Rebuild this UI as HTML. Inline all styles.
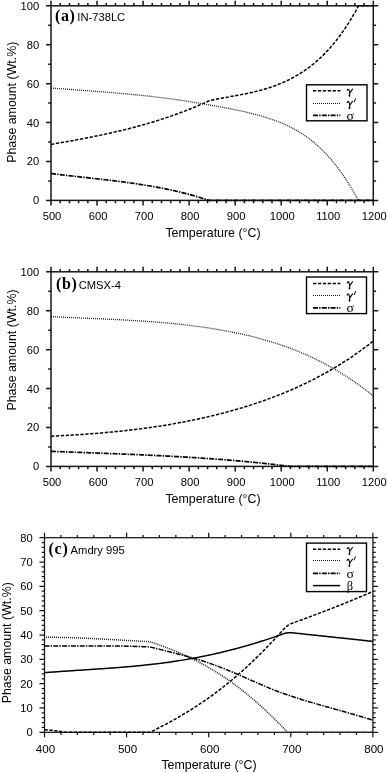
<!DOCTYPE html>
<html><head><meta charset="utf-8"><style>
html,body{margin:0;padding:0;background:#fff;}
body{width:388px;height:773px;overflow:hidden;}
svg{display:block;will-change:transform;}
text{font-family:"Liberation Sans",sans-serif;fill:#000;}
.tl{font-size:11.2px;}
.at{font-size:12.4px;}
.nm{font-size:11.2px;}
.pl{font-family:"Liberation Serif",serif;font-weight:bold;font-size:16px;letter-spacing:0.7px;}
.lg{font-family:"Liberation Serif",serif;font-size:11px;}
.lg2{font-family:"Liberation Serif",serif;font-size:12.5px;}
</style></head><body>
<svg width="388" height="773" viewBox="0 0 388 773">
<rect x="51.00" y="5.80" width="322.30" height="194.60" fill="none" stroke="#161616" stroke-width="1.50"/>
<path d="M51.00,200.40v5.00M51.00,5.80v-5.00M60.21,200.40v2.80M60.21,5.80v-2.80M69.42,200.40v2.80M69.42,5.80v-2.80M78.63,200.40v2.80M78.63,5.80v-2.80M87.83,200.40v2.80M87.83,5.80v-2.80M97.04,200.40v5.00M97.04,5.80v-5.00M106.25,200.40v2.80M106.25,5.80v-2.80M115.46,200.40v2.80M115.46,5.80v-2.80M124.67,200.40v2.80M124.67,5.80v-2.80M133.88,200.40v2.80M133.88,5.80v-2.80M143.09,200.40v5.00M143.09,5.80v-5.00M152.29,200.40v2.80M152.29,5.80v-2.80M161.50,200.40v2.80M161.50,5.80v-2.80M170.71,200.40v2.80M170.71,5.80v-2.80M179.92,200.40v2.80M179.92,5.80v-2.80M189.13,200.40v5.00M189.13,5.80v-5.00M198.34,200.40v2.80M198.34,5.80v-2.80M207.55,200.40v2.80M207.55,5.80v-2.80M216.75,200.40v2.80M216.75,5.80v-2.80M225.96,200.40v2.80M225.96,5.80v-2.80M235.17,200.40v5.00M235.17,5.80v-5.00M244.38,200.40v2.80M244.38,5.80v-2.80M253.59,200.40v2.80M253.59,5.80v-2.80M262.80,200.40v2.80M262.80,5.80v-2.80M272.01,200.40v2.80M272.01,5.80v-2.80M281.21,200.40v5.00M281.21,5.80v-5.00M290.42,200.40v2.80M290.42,5.80v-2.80M299.63,200.40v2.80M299.63,5.80v-2.80M308.84,200.40v2.80M308.84,5.80v-2.80M318.05,200.40v2.80M318.05,5.80v-2.80M327.26,200.40v5.00M327.26,5.80v-5.00M336.47,200.40v2.80M336.47,5.80v-2.80M345.67,200.40v2.80M345.67,5.80v-2.80M354.88,200.40v2.80M354.88,5.80v-2.80M364.09,200.40v2.80M364.09,5.80v-2.80M373.30,200.40v5.00M373.30,5.80v-5.00M51.00,200.40h-5.00M373.30,200.40h5.00M51.00,180.94h-2.80M373.30,180.94h2.80M51.00,161.48h-5.00M373.30,161.48h5.00M51.00,142.02h-2.80M373.30,142.02h2.80M51.00,122.56h-5.00M373.30,122.56h5.00M51.00,103.10h-2.80M373.30,103.10h2.80M51.00,83.64h-5.00M373.30,83.64h5.00M51.00,64.18h-2.80M373.30,64.18h2.80M51.00,44.72h-5.00M373.30,44.72h5.00M51.00,25.26h-2.80M373.30,25.26h2.80M51.00,5.80h-5.00M373.30,5.80h5.00" stroke="#161616" stroke-width="1.50" fill="none"/>
<text x="52.00" y="220.00" text-anchor="middle" class="tl">500</text>
<text x="98.04" y="220.00" text-anchor="middle" class="tl">600</text>
<text x="144.09" y="220.00" text-anchor="middle" class="tl">700</text>
<text x="190.13" y="220.00" text-anchor="middle" class="tl">800</text>
<text x="236.17" y="220.00" text-anchor="middle" class="tl">900</text>
<text x="282.21" y="220.00" text-anchor="middle" class="tl">1000</text>
<text x="328.26" y="220.00" text-anchor="middle" class="tl">1100</text>
<text x="374.30" y="220.00" text-anchor="middle" class="tl">1200</text>
<text x="39.20" y="204.40" text-anchor="end" class="tl">0</text>
<text x="39.20" y="165.48" text-anchor="end" class="tl">20</text>
<text x="39.20" y="126.56" text-anchor="end" class="tl">40</text>
<text x="39.20" y="87.64" text-anchor="end" class="tl">60</text>
<text x="39.20" y="48.72" text-anchor="end" class="tl">80</text>
<text x="39.20" y="9.80" text-anchor="end" class="tl">100</text>
<path d="M51.00,144.40L52.51,144.14L54.02,143.88L55.53,143.62L57.04,143.36L58.55,143.10L60.06,142.84L61.57,142.57L63.08,142.31L64.59,142.04L66.10,141.77L67.60,141.50L69.11,141.23L70.62,140.96L72.13,140.69L73.64,140.41L75.15,140.14L76.66,139.86L78.17,139.58L79.68,139.29L81.19,139.01L82.70,138.72L84.21,138.43L85.72,138.14L87.23,137.85L88.74,137.56L90.25,137.26L91.76,136.96L93.27,136.66L94.78,136.35L96.29,136.04L97.80,135.73L99.30,135.42L100.81,135.11L102.32,134.79L103.83,134.46L105.34,134.14L106.85,133.81L108.36,133.48L109.87,133.15L111.38,132.81L112.89,132.47L114.40,132.12L115.91,131.78L117.42,131.43L118.93,131.07L120.44,130.71L121.95,130.35L123.46,129.98L124.97,129.61L126.48,129.24L127.99,128.86L129.50,128.48L131.00,128.09L132.51,127.70L134.02,127.31L135.53,126.91L137.04,126.50L138.55,126.09L140.06,125.68L141.57,125.26L143.08,124.84L144.59,124.42L146.10,123.98L147.61,123.55L149.12,123.11L150.63,122.66L152.14,122.21L153.65,121.75L155.16,121.29L156.67,120.82L158.18,120.35L159.69,119.87L161.20,119.39L162.70,118.90L164.21,118.40L165.72,117.90L167.23,117.39L168.74,116.88L170.25,116.36L171.76,115.84L173.27,115.31L174.78,114.77L176.29,114.23L177.80,113.68L179.31,113.13L180.82,112.57L182.33,112.00L183.84,111.42L185.35,110.84L186.86,110.26L188.37,109.66L189.88,109.06L191.39,108.45L192.90,107.84L194.40,107.22L195.91,106.59L197.42,105.95L198.93,105.31L200.44,104.66L201.95,104.00L203.46,103.34L204.97,102.66L206.48,101.98L207.99,101.30L209.50,100.60L211.01,100.28L212.51,99.97L214.02,99.67L215.52,99.37L217.03,99.07L218.54,98.79L220.04,98.50L221.55,98.22L223.05,97.94L224.56,97.67L226.07,97.39L227.57,97.12L229.08,96.85L230.58,96.58L232.09,96.30L233.60,96.03L235.10,95.76L236.61,95.48L238.12,95.20L239.62,94.91L241.13,94.62L242.63,94.33L244.14,94.03L245.65,93.73L247.15,93.41L248.66,93.09L250.16,92.77L251.67,92.43L253.18,92.09L254.68,91.73L256.19,91.37L257.69,91.00L259.20,90.61L260.71,90.21L262.21,89.80L263.72,89.38L265.22,88.94L266.73,88.48L268.24,88.02L269.74,87.53L271.25,87.03L272.75,86.52L274.26,85.98L275.77,85.43L277.27,84.86L278.78,84.27L280.28,83.66L281.79,83.03L283.30,82.38L284.80,81.71L286.31,81.01L287.82,80.30L289.32,79.55L290.83,78.79L292.33,78.00L293.84,77.18L295.35,76.34L296.85,75.47L298.36,74.58L299.86,73.66L301.37,72.71L302.88,71.73L304.38,70.72L305.89,69.67L307.39,68.60L308.90,67.49L310.41,66.35L311.91,65.18L313.42,63.97L314.92,62.72L316.43,61.43L317.94,60.10L319.44,58.74L320.95,57.33L322.45,55.88L323.96,54.39L325.47,52.85L326.97,51.27L328.48,49.64L329.98,47.96L331.49,46.24L333.00,44.47L334.50,42.64L336.01,40.77L337.52,38.84L339.02,36.86L340.53,34.82L342.03,32.73L343.54,30.59L345.05,28.38L346.55,26.12L348.06,23.80L349.56,21.42L351.07,18.98L352.58,16.47L354.08,13.90L355.59,11.27L357.09,8.57L358.60,5.80L373.30,5.80" stroke="#000" stroke-width="1.5" stroke-dasharray="3.3 1.6" fill="none"/>
<path d="M51.00,88.00L52.51,88.12L54.01,88.23L55.52,88.34L57.03,88.46L58.53,88.57L60.04,88.68L61.55,88.80L63.05,88.91L64.56,89.02L66.07,89.13L67.58,89.24L69.08,89.35L70.59,89.46L72.10,89.58L73.60,89.69L75.11,89.80L76.62,89.91L78.12,90.02L79.63,90.13L81.14,90.24L82.64,90.35L84.15,90.47L85.66,90.58L87.16,90.69L88.67,90.80L90.18,90.92L91.69,91.03L93.19,91.15L94.70,91.26L96.21,91.38L97.71,91.49L99.22,91.61L100.73,91.73L102.23,91.85L103.74,91.97L105.25,92.09L106.75,92.21L108.26,92.33L109.77,92.45L111.27,92.58L112.78,92.71L114.29,92.83L115.80,92.96L117.30,93.09L118.81,93.22L120.32,93.35L121.82,93.49L123.33,93.62L124.84,93.76L126.34,93.89L127.85,94.03L129.36,94.17L130.86,94.32L132.37,94.46L133.88,94.61L135.38,94.75L136.89,94.90L138.40,95.06L139.90,95.21L141.41,95.36L142.92,95.52L144.43,95.68L145.93,95.84L147.44,96.01L148.95,96.17L150.45,96.34L151.96,96.51L153.47,96.68L154.97,96.86L156.48,97.03L157.99,97.21L159.49,97.40L161.00,97.58L162.51,97.77L164.01,97.96L165.52,98.15L167.03,98.35L168.54,98.54L170.04,98.75L171.55,98.95L173.06,99.16L174.56,99.36L176.07,99.58L177.58,99.79L179.08,100.01L180.59,100.23L182.10,100.45L183.60,100.68L185.11,100.91L186.62,101.14L188.12,101.37L189.63,101.60L191.14,101.84L192.65,102.08L194.15,102.33L195.66,102.57L197.17,102.82L198.67,103.07L200.18,103.32L201.69,103.57L203.19,103.83L204.70,104.08L206.21,104.34L207.71,104.60L209.22,104.87L210.73,105.13L212.23,105.40L213.74,105.67L215.25,105.94L216.75,106.21L218.26,106.49L219.77,106.76L221.28,107.04L222.78,107.32L224.29,107.60L225.80,107.88L227.30,108.17L228.81,108.46L230.32,108.75L231.82,109.04L233.33,109.34L234.84,109.65L236.34,109.96L237.85,110.27L239.36,110.59L240.86,110.92L242.37,111.25L243.88,111.58L245.39,111.93L246.89,112.28L248.40,112.64L249.91,113.00L251.41,113.38L252.92,113.76L254.43,114.15L255.93,114.55L257.44,114.96L258.95,115.37L260.45,115.80L261.96,116.24L263.47,116.69L264.97,117.15L266.48,117.62L267.99,118.10L269.50,118.60L271.00,119.10L272.51,119.62L274.02,120.15L275.52,120.70L277.03,121.26L278.54,121.84L280.04,122.44L281.55,123.06L283.06,123.69L284.56,124.35L286.07,125.02L287.58,125.72L289.08,126.44L290.59,127.19L292.10,127.96L293.60,128.76L295.11,129.58L296.62,130.43L298.13,131.31L299.63,132.22L301.14,133.15L302.65,134.12L304.15,135.13L305.66,136.16L307.17,137.23L308.67,138.33L310.18,139.47L311.69,140.65L313.19,141.87L314.70,143.12L316.21,144.41L317.71,145.75L319.22,147.12L320.73,148.54L322.24,150.00L323.74,151.50L325.25,153.05L326.76,154.65L328.26,156.29L329.77,157.98L331.28,159.72L332.78,161.50L334.29,163.34L335.80,165.23L337.30,167.18L338.81,169.17L340.32,171.22L341.82,173.33L343.33,175.49L344.84,177.71L346.35,179.99L347.85,182.32L349.36,184.72L350.87,187.17L352.37,189.69L353.88,192.27L355.39,194.92L356.89,197.62L358.40,200.40L373.30,200.40" stroke="#222" stroke-width="1.3" stroke-dasharray="1 1" fill="none"/>
<path d="M51.00,173.50L52.50,173.69L54.01,173.88L55.51,174.07L57.02,174.26L58.52,174.44L60.03,174.63L61.53,174.81L63.04,174.99L64.54,175.17L66.05,175.34L67.55,175.52L69.06,175.69L70.56,175.86L72.07,176.03L73.57,176.20L75.08,176.37L76.58,176.54L78.09,176.71L79.59,176.88L81.10,177.05L82.60,177.21L84.10,177.38L85.61,177.55L87.11,177.71L88.62,177.88L90.12,178.05L91.63,178.21L93.13,178.38L94.64,178.55L96.14,178.72L97.65,178.89L99.15,179.06L100.66,179.23L102.16,179.40L103.67,179.57L105.17,179.75L106.68,179.92L108.18,180.10L109.69,180.28L111.19,180.46L112.70,180.64L114.20,180.82L115.70,181.01L117.21,181.19L118.71,181.38L120.22,181.57L121.72,181.77L123.23,181.96L124.73,182.16L126.24,182.36L127.74,182.57L129.25,182.77L130.75,182.98L132.26,183.20L133.76,183.41L135.27,183.63L136.77,183.85L138.28,184.08L139.78,184.31L141.29,184.54L142.79,184.78L144.30,185.02L145.80,185.26L147.30,185.51L148.81,185.76L150.31,186.02L151.82,186.28L153.32,186.54L154.83,186.81L156.33,187.09L157.84,187.37L159.34,187.65L160.85,187.94L162.35,188.23L163.86,188.53L165.36,188.84L166.87,189.15L168.37,189.46L169.88,189.78L171.38,190.11L172.89,190.44L174.39,190.78L175.90,191.12L177.40,191.47L178.90,191.83L180.41,192.19L181.91,192.56L183.42,192.93L184.92,193.32L186.43,193.70L187.93,194.10L189.44,194.50L190.94,194.91L192.45,195.33L193.95,195.75L195.46,196.18L196.96,196.62L198.47,197.06L199.97,197.52L201.48,197.98L202.98,198.45L204.49,198.92L205.99,199.41L207.50,199.90L209.00,200.40L373.30,200.40" stroke="#000" stroke-width="1.7" stroke-dasharray="5 1.2 1.4 1.2" fill="none"/>
<rect x="306.50" y="84.80" width="60.50" height="36.00" fill="#fff" stroke="#000" stroke-width="1.4"/>
<path d="M313.00,90.80H340.40" stroke="#000" stroke-width="1.5" stroke-dasharray="3.3 1.6" fill="none"/>
<g transform="translate(346.80,90.80)"><path d="M0.4,-0.5C0.7,-1.6 1.6,-2.0 2.2,-0.9L3.0,2.3M5.7,-1.7L3.0,2.3L2.75,4.4" stroke="#000" stroke-width="1.1" fill="none" stroke-linecap="round"/><ellipse cx="2.7" cy="4.9" rx="0.9" ry="1.15" fill="#000"/></g>
<path d="M313.00,103.50H340.40" stroke="#111" stroke-width="1.2" stroke-dasharray="1 1" fill="none"/>
<g transform="translate(346.80,103.00)"><path d="M0.4,-0.5C0.7,-1.6 1.6,-2.0 2.2,-0.9L3.0,2.3M5.7,-1.7L3.0,2.3L2.75,4.4" stroke="#000" stroke-width="1.1" fill="none" stroke-linecap="round"/><ellipse cx="2.7" cy="4.9" rx="0.9" ry="1.15" fill="#000"/><path d="M8.7,-4.1L7.4,-1.0" stroke="#000" stroke-width="1.0" stroke-linecap="round"/></g>
<path d="M313.00,115.40H340.40" stroke="#000" stroke-width="1.7" stroke-dasharray="5 1.2 1.4 1.2" fill="none"/>
<text x="346.50" y="119.70" class="lg2" transform="translate(346.50,0) scale(1.1,1) translate(-346.50,0)">&#963;</text>
<text x="54.9" y="21" class="pl">(a)</text><text x="77.3" y="21" class="nm">IN-738LC</text>
<text transform="translate(15.5,102.25) rotate(-90)" text-anchor="middle" class="at">Phase amount (Wt.%)</text>
<text x="213" y="236.6" text-anchor="middle" class="at">Temperature (&#176;C)</text>
<rect x="51.00" y="271.80" width="322.30" height="194.60" fill="none" stroke="#161616" stroke-width="1.50"/>
<path d="M51.00,466.40v5.00M51.00,271.80v-5.00M60.21,466.40v2.80M60.21,271.80v-2.80M69.42,466.40v2.80M69.42,271.80v-2.80M78.63,466.40v2.80M78.63,271.80v-2.80M87.83,466.40v2.80M87.83,271.80v-2.80M97.04,466.40v5.00M97.04,271.80v-5.00M106.25,466.40v2.80M106.25,271.80v-2.80M115.46,466.40v2.80M115.46,271.80v-2.80M124.67,466.40v2.80M124.67,271.80v-2.80M133.88,466.40v2.80M133.88,271.80v-2.80M143.09,466.40v5.00M143.09,271.80v-5.00M152.29,466.40v2.80M152.29,271.80v-2.80M161.50,466.40v2.80M161.50,271.80v-2.80M170.71,466.40v2.80M170.71,271.80v-2.80M179.92,466.40v2.80M179.92,271.80v-2.80M189.13,466.40v5.00M189.13,271.80v-5.00M198.34,466.40v2.80M198.34,271.80v-2.80M207.55,466.40v2.80M207.55,271.80v-2.80M216.75,466.40v2.80M216.75,271.80v-2.80M225.96,466.40v2.80M225.96,271.80v-2.80M235.17,466.40v5.00M235.17,271.80v-5.00M244.38,466.40v2.80M244.38,271.80v-2.80M253.59,466.40v2.80M253.59,271.80v-2.80M262.80,466.40v2.80M262.80,271.80v-2.80M272.01,466.40v2.80M272.01,271.80v-2.80M281.21,466.40v5.00M281.21,271.80v-5.00M290.42,466.40v2.80M290.42,271.80v-2.80M299.63,466.40v2.80M299.63,271.80v-2.80M308.84,466.40v2.80M308.84,271.80v-2.80M318.05,466.40v2.80M318.05,271.80v-2.80M327.26,466.40v5.00M327.26,271.80v-5.00M336.47,466.40v2.80M336.47,271.80v-2.80M345.67,466.40v2.80M345.67,271.80v-2.80M354.88,466.40v2.80M354.88,271.80v-2.80M364.09,466.40v2.80M364.09,271.80v-2.80M373.30,466.40v5.00M373.30,271.80v-5.00M51.00,466.40h-5.00M373.30,466.40h5.00M51.00,446.94h-2.80M373.30,446.94h2.80M51.00,427.48h-5.00M373.30,427.48h5.00M51.00,408.02h-2.80M373.30,408.02h2.80M51.00,388.56h-5.00M373.30,388.56h5.00M51.00,369.10h-2.80M373.30,369.10h2.80M51.00,349.64h-5.00M373.30,349.64h5.00M51.00,330.18h-2.80M373.30,330.18h2.80M51.00,310.72h-5.00M373.30,310.72h5.00M51.00,291.26h-2.80M373.30,291.26h2.80M51.00,271.80h-5.00M373.30,271.80h5.00" stroke="#161616" stroke-width="1.50" fill="none"/>
<text x="52.00" y="486.00" text-anchor="middle" class="tl">500</text>
<text x="98.04" y="486.00" text-anchor="middle" class="tl">600</text>
<text x="144.09" y="486.00" text-anchor="middle" class="tl">700</text>
<text x="190.13" y="486.00" text-anchor="middle" class="tl">800</text>
<text x="236.17" y="486.00" text-anchor="middle" class="tl">900</text>
<text x="282.21" y="486.00" text-anchor="middle" class="tl">1000</text>
<text x="328.26" y="486.00" text-anchor="middle" class="tl">1100</text>
<text x="374.30" y="486.00" text-anchor="middle" class="tl">1200</text>
<text x="39.20" y="470.40" text-anchor="end" class="tl">0</text>
<text x="39.20" y="431.48" text-anchor="end" class="tl">20</text>
<text x="39.20" y="392.56" text-anchor="end" class="tl">40</text>
<text x="39.20" y="353.64" text-anchor="end" class="tl">60</text>
<text x="39.20" y="314.72" text-anchor="end" class="tl">80</text>
<text x="39.20" y="275.80" text-anchor="end" class="tl">100</text>
<path d="M51.00,436.20L52.51,436.13L54.01,436.06L55.52,435.98L57.02,435.91L58.53,435.83L60.04,435.75L61.54,435.67L63.05,435.59L64.55,435.51L66.06,435.42L67.57,435.34L69.07,435.25L70.58,435.16L72.09,435.07L73.59,434.98L75.10,434.88L76.60,434.79L78.11,434.69L79.62,434.59L81.12,434.49L82.63,434.39L84.13,434.28L85.64,434.18L87.15,434.07L88.65,433.96L90.16,433.85L91.66,433.73L93.17,433.62L94.68,433.50L96.18,433.38L97.69,433.26L99.19,433.13L100.70,433.01L102.21,432.88L103.71,432.75L105.22,432.61L106.72,432.48L108.23,432.34L109.74,432.20L111.24,432.06L112.75,431.92L114.26,431.77L115.76,431.62L117.27,431.47L118.77,431.31L120.28,431.16L121.79,431.00L123.29,430.84L124.80,430.67L126.30,430.51L127.81,430.34L129.32,430.16L130.82,429.99L132.33,429.81L133.83,429.63L135.34,429.45L136.85,429.26L138.35,429.07L139.86,428.88L141.36,428.69L142.87,428.49L144.38,428.29L145.88,428.09L147.39,427.88L148.89,427.67L150.40,427.46L151.91,427.25L153.41,427.03L154.92,426.81L156.43,426.58L157.93,426.35L159.44,426.12L160.94,425.89L162.45,425.65L163.96,425.41L165.46,425.17L166.97,424.92L168.47,424.67L169.98,424.41L171.49,424.16L172.99,423.90L174.50,423.63L176.00,423.36L177.51,423.09L179.02,422.82L180.52,422.54L182.03,422.26L183.53,421.97L185.04,421.68L186.55,421.39L188.05,421.09L189.56,420.79L191.06,420.48L192.57,420.18L194.08,419.86L195.58,419.55L197.09,419.23L198.60,418.90L200.10,418.58L201.61,418.25L203.11,417.91L204.62,417.57L206.13,417.23L207.63,416.88L209.14,416.53L210.64,416.17L212.15,415.81L213.66,415.45L215.16,415.08L216.67,414.70L218.17,414.33L219.68,413.95L221.19,413.56L222.69,413.17L224.20,412.78L225.70,412.38L227.21,411.97L228.72,411.57L230.22,411.15L231.73,410.74L233.24,410.31L234.74,409.89L236.25,409.46L237.75,409.02L239.26,408.58L240.77,408.13L242.27,407.68L243.78,407.23L245.28,406.76L246.79,406.30L248.30,405.83L249.80,405.35L251.31,404.86L252.81,404.38L254.32,403.88L255.83,403.38L257.33,402.88L258.84,402.37L260.34,401.85L261.85,401.33L263.36,400.80L264.86,400.26L266.37,399.72L267.87,399.17L269.38,398.62L270.89,398.06L272.39,397.50L273.90,396.92L275.41,396.34L276.91,395.76L278.42,395.17L279.92,394.57L281.43,393.96L282.94,393.35L284.44,392.73L285.95,392.11L287.45,391.47L288.96,390.83L290.47,390.19L291.97,389.53L293.48,388.87L294.98,388.20L296.49,387.53L298.00,386.84L299.50,386.15L301.01,385.45L302.51,384.75L304.02,384.03L305.53,383.31L307.03,382.58L308.54,381.84L310.04,381.10L311.55,380.35L313.06,379.58L314.56,378.82L316.07,378.04L317.58,377.25L319.08,376.46L320.59,375.65L322.09,374.84L323.60,374.02L325.11,373.19L326.61,372.35L328.12,371.50L329.62,370.64L331.13,369.77L332.64,368.89L334.14,368.00L335.65,367.10L337.15,366.19L338.66,365.28L340.17,364.35L341.67,363.41L343.18,362.46L344.68,361.49L346.19,360.52L347.70,359.54L349.20,358.54L350.71,357.54L352.21,356.52L353.72,355.49L355.23,354.45L356.73,353.40L358.24,352.33L359.75,351.26L361.25,350.17L362.76,349.07L364.26,347.95L365.77,346.83L367.28,345.69L368.78,344.54L370.29,343.37L371.79,342.20L373.30,341.00" stroke="#000" stroke-width="1.5" stroke-dasharray="3.3 1.6" fill="none"/>
<path d="M51.00,316.60L52.51,316.67L54.01,316.75L55.52,316.83L57.02,316.90L58.53,316.97L60.04,317.05L61.54,317.12L63.05,317.19L64.55,317.26L66.06,317.33L67.57,317.40L69.07,317.47L70.58,317.54L72.09,317.60L73.59,317.67L75.10,317.74L76.60,317.80L78.11,317.87L79.62,317.93L81.12,318.00L82.63,318.07L84.13,318.13L85.64,318.20L87.15,318.26L88.65,318.33L90.16,318.39L91.66,318.46L93.17,318.52L94.68,318.59L96.18,318.65L97.69,318.72L99.19,318.79L100.70,318.85L102.21,318.92L103.71,318.99L105.22,319.06L106.72,319.13L108.23,319.20L109.74,319.27L111.24,319.34L112.75,319.41L114.26,319.49L115.76,319.56L117.27,319.64L118.77,319.71L120.28,319.79L121.79,319.87L123.29,319.95L124.80,320.03L126.30,320.11L127.81,320.20L129.32,320.28L130.82,320.37L132.33,320.46L133.83,320.55L135.34,320.64L136.85,320.73L138.35,320.82L139.86,320.92L141.36,321.02L142.87,321.12L144.38,321.22L145.88,321.32L147.39,321.43L148.89,321.53L150.40,321.64L151.91,321.76L153.41,321.87L154.92,321.99L156.43,322.10L157.93,322.23L159.44,322.35L160.94,322.47L162.45,322.60L163.96,322.73L165.46,322.87L166.97,323.00L168.47,323.14L169.98,323.28L171.49,323.43L172.99,323.57L174.50,323.72L176.00,323.87L177.51,324.03L179.02,324.19L180.52,324.35L182.03,324.51L183.53,324.68L185.04,324.85L186.55,325.03L188.05,325.21L189.56,325.39L191.06,325.57L192.57,325.76L194.08,325.95L195.58,326.15L197.09,326.34L198.60,326.55L200.10,326.75L201.61,326.96L203.11,327.18L204.62,327.39L206.13,327.62L207.63,327.84L209.14,328.07L210.64,328.30L212.15,328.54L213.66,328.78L215.16,329.03L216.67,329.28L218.17,329.53L219.68,329.79L221.19,330.06L222.69,330.32L224.20,330.60L225.70,330.87L227.21,331.16L228.72,331.44L230.22,331.73L231.73,332.03L233.24,332.33L234.74,332.63L236.25,332.95L237.75,333.26L239.26,333.58L240.77,333.91L242.27,334.24L243.78,334.58L245.28,334.92L246.79,335.27L248.30,335.63L249.80,335.99L251.31,336.35L252.81,336.73L254.32,337.11L255.83,337.49L257.33,337.89L258.84,338.28L260.34,338.69L261.85,339.10L263.36,339.52L264.86,339.95L266.37,340.38L267.87,340.82L269.38,341.27L270.89,341.73L272.39,342.19L273.90,342.66L275.41,343.14L276.91,343.63L278.42,344.12L279.92,344.63L281.43,345.14L282.94,345.66L284.44,346.19L285.95,346.72L287.45,347.27L288.96,347.82L290.47,348.38L291.97,348.95L293.48,349.53L294.98,350.12L296.49,350.72L298.00,351.33L299.50,351.95L301.01,352.57L302.51,353.21L304.02,353.86L305.53,354.51L307.03,355.18L308.54,355.86L310.04,356.54L311.55,357.24L313.06,357.95L314.56,358.66L316.07,359.39L317.58,360.13L319.08,360.88L320.59,361.64L322.09,362.41L323.60,363.19L325.11,363.99L326.61,364.79L328.12,365.61L329.62,366.43L331.13,367.27L332.64,368.12L334.14,368.99L335.65,369.86L337.15,370.75L338.66,371.65L340.17,372.56L341.67,373.48L343.18,374.42L344.68,375.36L346.19,376.32L347.70,377.30L349.20,378.28L350.71,379.28L352.21,380.30L353.72,381.32L355.23,382.36L356.73,383.41L358.24,384.48L359.75,385.56L361.25,386.65L362.76,387.76L364.26,388.88L365.77,390.01L367.28,391.16L368.78,392.32L370.29,393.50L371.79,394.69L373.30,395.90" stroke="#222" stroke-width="1.3" stroke-dasharray="1 1" fill="none"/>
<path d="M51.00,451.30L52.50,451.36L54.01,451.42L55.51,451.48L57.01,451.54L58.52,451.60L60.02,451.65L61.52,451.71L63.03,451.77L64.53,451.83L66.03,451.89L67.53,451.94L69.04,452.00L70.54,452.06L72.04,452.11L73.55,452.17L75.05,452.23L76.55,452.29L78.06,452.34L79.56,452.40L81.06,452.45L82.57,452.51L84.07,452.57L85.57,452.62L87.08,452.68L88.58,452.74L90.08,452.79L91.58,452.85L93.09,452.91L94.59,452.96L96.09,453.02L97.60,453.08L99.10,453.13L100.60,453.19L102.11,453.25L103.61,453.30L105.11,453.36L106.62,453.42L108.12,453.48L109.62,453.54L111.13,453.59L112.63,453.65L114.13,453.71L115.64,453.77L117.14,453.83L118.64,453.89L120.14,453.95L121.65,454.01L123.15,454.07L124.65,454.13L126.16,454.19L127.66,454.26L129.16,454.32L130.67,454.38L132.17,454.44L133.67,454.51L135.18,454.57L136.68,454.64L138.18,454.70L139.69,454.77L141.19,454.83L142.69,454.90L144.19,454.97L145.70,455.03L147.20,455.10L148.70,455.17L150.21,455.24L151.71,455.31L153.21,455.38L154.72,455.45L156.22,455.53L157.72,455.60L159.23,455.67L160.73,455.75L162.23,455.82L163.74,455.90L165.24,455.97L166.74,456.05L168.25,456.13L169.75,456.21L171.25,456.29L172.75,456.37L174.26,456.45L175.76,456.53L177.26,456.62L178.77,456.70L180.27,456.78L181.77,456.87L183.28,456.96L184.78,457.04L186.28,457.13L187.79,457.22L189.29,457.31L190.79,457.41L192.30,457.50L193.80,457.59L195.30,457.69L196.81,457.78L198.31,457.88L199.81,457.98L201.31,458.08L202.82,458.18L204.32,458.28L205.82,458.38L207.33,458.48L208.83,458.59L210.33,458.69L211.84,458.80L213.34,458.91L214.84,459.02L216.35,459.13L217.85,459.24L219.35,459.36L220.86,459.47L222.36,459.59L223.86,459.70L225.36,459.82L226.87,459.94L228.37,460.06L229.87,460.19L231.38,460.31L232.88,460.44L234.38,460.56L235.89,460.69L237.39,460.82L238.89,460.95L240.40,461.09L241.90,461.22L243.40,461.36L244.91,461.49L246.41,461.63L247.91,461.77L249.42,461.92L250.92,462.06L252.42,462.20L253.92,462.35L255.43,462.50L256.93,462.65L258.43,462.80L259.94,462.96L261.44,463.11L262.94,463.27L264.45,463.43L265.95,463.59L267.45,463.75L268.96,463.91L270.46,464.08L271.96,464.25L273.47,464.41L274.97,464.59L276.47,464.76L277.97,464.93L279.48,465.11L280.98,465.29L282.48,465.47L283.99,465.65L285.49,465.83L286.99,466.02L288.50,466.21L290.00,466.40L373.30,466.40" stroke="#000" stroke-width="1.7" stroke-dasharray="5 1.2 1.4 1.2" fill="none"/>
<rect x="306.50" y="277.00" width="60.00" height="36.60" fill="#fff" stroke="#000" stroke-width="1.4"/>
<path d="M313.00,283.40H340.40" stroke="#000" stroke-width="1.5" stroke-dasharray="3.3 1.6" fill="none"/>
<g transform="translate(346.80,283.40)"><path d="M0.4,-0.5C0.7,-1.6 1.6,-2.0 2.2,-0.9L3.0,2.3M5.7,-1.7L3.0,2.3L2.75,4.4" stroke="#000" stroke-width="1.1" fill="none" stroke-linecap="round"/><ellipse cx="2.7" cy="4.9" rx="0.9" ry="1.15" fill="#000"/></g>
<path d="M313.00,295.50H340.40" stroke="#111" stroke-width="1.2" stroke-dasharray="1 1" fill="none"/>
<g transform="translate(346.80,295.60)"><path d="M0.4,-0.5C0.7,-1.6 1.6,-2.0 2.2,-0.9L3.0,2.3M5.7,-1.7L3.0,2.3L2.75,4.4" stroke="#000" stroke-width="1.1" fill="none" stroke-linecap="round"/><ellipse cx="2.7" cy="4.9" rx="0.9" ry="1.15" fill="#000"/><path d="M8.7,-4.1L7.4,-1.0" stroke="#000" stroke-width="1.0" stroke-linecap="round"/></g>
<path d="M313.00,307.80H340.40" stroke="#000" stroke-width="1.7" stroke-dasharray="5 1.2 1.4 1.2" fill="none"/>
<text x="346.50" y="312.10" class="lg2" transform="translate(346.50,0) scale(1.1,1) translate(-346.50,0)">&#963;</text>
<text x="55.9" y="288.7" class="pl">(b)</text><text x="78.7" y="288.7" class="nm">CMSX-4</text>
<text transform="translate(16,350) rotate(-90)" text-anchor="middle" class="at">Phase amount (Wt.%)</text>
<text x="213" y="503.2" text-anchor="middle" class="at">Temperature (&#176;C)</text>
<rect x="44.50" y="537.70" width="328.40" height="194.60" fill="none" stroke="#161616" stroke-width="1.25"/>
<path d="M44.50,732.30v5.00M44.50,537.70v-5.00M60.92,732.30v2.80M60.92,537.70v-2.80M77.34,732.30v2.80M77.34,537.70v-2.80M93.76,732.30v2.80M93.76,537.70v-2.80M110.18,732.30v2.80M110.18,537.70v-2.80M126.60,732.30v5.00M126.60,537.70v-5.00M143.02,732.30v2.80M143.02,537.70v-2.80M159.44,732.30v2.80M159.44,537.70v-2.80M175.86,732.30v2.80M175.86,537.70v-2.80M192.28,732.30v2.80M192.28,537.70v-2.80M208.70,732.30v5.00M208.70,537.70v-5.00M225.12,732.30v2.80M225.12,537.70v-2.80M241.54,732.30v2.80M241.54,537.70v-2.80M257.96,732.30v2.80M257.96,537.70v-2.80M274.38,732.30v2.80M274.38,537.70v-2.80M290.80,732.30v5.00M290.80,537.70v-5.00M307.22,732.30v2.80M307.22,537.70v-2.80M323.64,732.30v2.80M323.64,537.70v-2.80M340.06,732.30v2.80M340.06,537.70v-2.80M356.48,732.30v2.80M356.48,537.70v-2.80M372.90,732.30v5.00M372.90,537.70v-5.00M44.50,732.30h-5.00M372.90,732.30h5.00M44.50,727.43h-2.80M372.90,727.43h2.80M44.50,722.57h-2.80M372.90,722.57h2.80M44.50,717.70h-2.80M372.90,717.70h2.80M44.50,712.84h-2.80M372.90,712.84h2.80M44.50,707.97h-5.00M372.90,707.97h5.00M44.50,703.11h-2.80M372.90,703.11h2.80M44.50,698.25h-2.80M372.90,698.25h2.80M44.50,693.38h-2.80M372.90,693.38h2.80M44.50,688.51h-2.80M372.90,688.51h2.80M44.50,683.65h-5.00M372.90,683.65h5.00M44.50,678.78h-2.80M372.90,678.78h2.80M44.50,673.92h-2.80M372.90,673.92h2.80M44.50,669.05h-2.80M372.90,669.05h2.80M44.50,664.19h-2.80M372.90,664.19h2.80M44.50,659.33h-5.00M372.90,659.33h5.00M44.50,654.46h-2.80M372.90,654.46h2.80M44.50,649.60h-2.80M372.90,649.60h2.80M44.50,644.73h-2.80M372.90,644.73h2.80M44.50,639.87h-2.80M372.90,639.87h2.80M44.50,635.00h-5.00M372.90,635.00h5.00M44.50,630.13h-2.80M372.90,630.13h2.80M44.50,625.27h-2.80M372.90,625.27h2.80M44.50,620.40h-2.80M372.90,620.40h2.80M44.50,615.54h-2.80M372.90,615.54h2.80M44.50,610.67h-5.00M372.90,610.67h5.00M44.50,605.81h-2.80M372.90,605.81h2.80M44.50,600.95h-2.80M372.90,600.95h2.80M44.50,596.08h-2.80M372.90,596.08h2.80M44.50,591.22h-2.80M372.90,591.22h2.80M44.50,586.35h-5.00M372.90,586.35h5.00M44.50,581.49h-2.80M372.90,581.49h2.80M44.50,576.62h-2.80M372.90,576.62h2.80M44.50,571.75h-2.80M372.90,571.75h2.80M44.50,566.89h-2.80M372.90,566.89h2.80M44.50,562.03h-5.00M372.90,562.03h5.00M44.50,557.16h-2.80M372.90,557.16h2.80M44.50,552.30h-2.80M372.90,552.30h2.80M44.50,547.43h-2.80M372.90,547.43h2.80M44.50,542.57h-2.80M372.90,542.57h2.80M44.50,537.70h-5.00M372.90,537.70h5.00" stroke="#161616" stroke-width="1.25" fill="none"/>
<text x="45.50" y="752.80" text-anchor="middle" class="tl" style="font-size:11.6px">400</text>
<text x="127.60" y="752.80" text-anchor="middle" class="tl" style="font-size:11.6px">500</text>
<text x="209.70" y="752.80" text-anchor="middle" class="tl" style="font-size:11.6px">600</text>
<text x="291.80" y="752.80" text-anchor="middle" class="tl" style="font-size:11.6px">700</text>
<text x="373.90" y="752.80" text-anchor="middle" class="tl" style="font-size:11.6px">800</text>
<text x="32.70" y="736.30" text-anchor="end" class="tl">0</text>
<text x="32.70" y="711.97" text-anchor="end" class="tl">10</text>
<text x="32.70" y="687.65" text-anchor="end" class="tl">20</text>
<text x="32.70" y="663.33" text-anchor="end" class="tl">30</text>
<text x="32.70" y="639.00" text-anchor="end" class="tl">40</text>
<text x="32.70" y="614.67" text-anchor="end" class="tl">50</text>
<text x="32.70" y="590.35" text-anchor="end" class="tl">60</text>
<text x="32.70" y="566.03" text-anchor="end" class="tl">70</text>
<text x="32.70" y="541.70" text-anchor="end" class="tl">80</text>
<path d="M44.50,729.70L46.00,729.78L47.50,729.88L49.00,730.00L50.50,730.15L52.00,730.31L53.50,730.49L55.00,730.69L56.50,730.90L58.00,731.12L59.50,731.34L61.00,731.58L62.50,731.82L64.00,732.06L65.50,732.30L150.00,732.30L151.51,731.55L153.02,730.81L154.53,730.05L156.04,729.29L157.55,728.53L159.07,727.75L160.58,726.97L162.09,726.19L163.60,725.39L165.11,724.60L166.62,723.79L168.13,722.98L169.64,722.15L171.15,721.33L172.66,720.49L174.18,719.65L175.69,718.79L177.20,717.93L178.71,717.06L180.22,716.19L181.73,715.30L183.24,714.41L184.75,713.50L186.26,712.59L187.77,711.67L189.29,710.74L190.80,709.80L192.31,708.85L193.82,707.89L195.33,706.92L196.84,705.94L198.35,704.95L199.86,703.95L201.37,702.93L202.88,701.91L204.40,700.88L205.91,699.83L207.42,698.78L208.93,697.71L210.44,696.63L211.95,695.54L213.46,694.44L214.97,693.32L216.48,692.20L217.99,691.06L219.51,689.91L221.02,688.74L222.53,687.56L224.04,686.37L225.55,685.17L227.06,683.96L228.57,682.73L230.08,681.48L231.59,680.23L233.10,678.96L234.62,677.68L236.13,676.38L237.64,675.07L239.15,673.75L240.66,672.42L242.17,671.07L243.68,669.71L245.19,668.34L246.70,666.96L248.21,665.56L249.73,664.15L251.24,662.73L252.75,661.29L254.26,659.85L255.77,658.38L257.28,656.91L258.79,655.43L260.30,653.93L261.81,652.42L263.32,650.90L264.84,649.36L266.35,647.82L267.86,646.26L269.37,644.69L270.88,643.10L272.39,641.51L273.90,639.90L275.41,638.28L276.92,636.65L278.43,635.01L279.95,633.35L281.46,631.68L282.97,630.00L283.00,629.97L283.82,629.07L284.64,628.24L285.45,627.46L286.27,626.74L287.09,626.08L287.91,625.47L288.73,624.92L289.55,624.43L290.36,623.99L291.18,623.61L292.00,623.29L292.07,623.26L293.60,622.72L295.12,622.17L296.65,621.62L298.18,621.06L299.70,620.51L301.23,619.95L302.75,619.39L304.27,618.83L305.80,618.27L307.32,617.71L308.85,617.14L310.38,616.58L311.90,616.01L313.43,615.44L314.95,614.87L316.48,614.29L318.00,613.71L319.52,613.14L321.05,612.56L322.57,611.97L324.10,611.39L325.62,610.80L327.15,610.21L328.68,609.62L330.20,609.03L331.73,608.43L333.25,607.83L334.77,607.23L336.30,606.63L337.82,606.03L339.35,605.42L340.88,604.81L342.40,604.20L343.93,603.58L345.45,602.97L346.97,602.35L348.50,601.72L350.02,601.10L351.55,600.47L353.07,599.84L354.60,599.21L356.12,598.57L357.65,597.94L359.17,597.30L360.70,596.65L362.22,596.01L363.75,595.36L365.27,594.70L366.80,594.05L368.32,593.39L369.85,592.73L371.38,592.07L372.90,591.40" stroke="#000" stroke-width="1.5" stroke-dasharray="3.3 1.6" fill="none"/>
<path d="M44.50,637.30L46.00,637.29L47.50,637.29L49.00,637.30L50.50,637.30L52.00,637.31L53.50,637.32L55.00,637.34L56.50,637.36L58.00,637.38L59.50,637.40L61.00,637.43L62.50,637.46L64.00,637.50L65.50,637.53L67.00,637.57L68.50,637.62L70.00,637.66L71.50,637.71L73.00,637.76L74.50,637.81L76.00,637.86L77.50,637.92L79.00,637.98L80.50,638.04L82.00,638.10L83.50,638.16L85.00,638.23L86.50,638.29L88.00,638.36L89.50,638.43L91.00,638.51L92.50,638.58L94.00,638.65L95.50,638.73L97.00,638.81L98.50,638.88L100.00,638.96L101.50,639.04L103.00,639.12L104.50,639.20L106.00,639.29L107.50,639.37L109.00,639.45L110.50,639.53L112.00,639.62L113.50,639.70L115.00,639.79L116.50,639.87L118.00,639.96L119.50,640.04L121.00,640.12L122.50,640.21L124.00,640.29L125.50,640.38L127.00,640.46L128.50,640.54L130.00,640.62L131.50,640.70L133.00,640.78L134.50,640.86L136.00,640.94L137.50,641.02L139.00,641.10L140.50,641.17L142.00,641.25L143.50,641.32L145.00,641.39L146.50,641.46L148.00,641.53L149.50,641.60L151.00,642.09L152.50,642.58L154.00,643.08L155.50,643.59L157.01,644.11L158.51,644.63L160.01,645.16L161.51,645.70L163.01,646.25L164.51,646.80L166.01,647.37L167.51,647.94L169.01,648.52L170.52,649.11L172.02,649.71L173.52,650.32L175.02,650.94L176.52,651.56L178.02,652.20L179.52,652.85L181.02,653.50L182.52,654.17L184.03,654.84L185.53,655.53L187.03,656.23L188.53,656.93L190.03,657.65L191.53,658.38L193.03,659.12L194.53,659.87L196.03,660.63L197.53,661.40L199.04,662.19L200.54,662.98L202.04,663.79L203.54,664.61L205.04,665.44L206.54,666.29L208.04,667.14L209.54,668.01L211.04,668.89L212.55,669.79L214.05,670.70L215.55,671.62L217.05,672.55L218.55,673.49L220.05,674.45L221.55,675.43L223.05,676.42L224.55,677.42L226.06,678.43L227.56,679.46L229.06,680.50L230.56,681.56L232.06,682.63L233.56,683.72L235.06,684.82L236.56,685.94L238.06,687.07L239.57,688.22L241.07,689.38L242.57,690.56L244.07,691.75L245.57,692.96L247.07,694.18L248.57,695.42L250.07,696.67L251.57,697.94L253.08,699.22L254.58,700.51L256.08,701.82L257.58,703.14L259.08,704.48L260.58,705.83L262.08,707.19L263.58,708.57L265.08,709.96L266.58,711.36L268.09,712.77L269.59,714.20L271.09,715.64L272.59,717.10L274.09,718.56L275.59,720.04L277.09,721.53L278.59,723.04L280.09,724.55L281.60,726.08L283.10,727.62L284.60,729.17L286.10,730.73L287.60,732.30L372.90,732.30" stroke="#222" stroke-width="1.5" stroke-dasharray="1 1" fill="none" stroke-dashoffset="0.5"/>
<path d="M44.50,645.90L46.01,645.91L47.52,645.93L49.03,645.94L50.54,645.95L52.05,645.95L53.56,645.96L55.07,645.97L56.58,645.97L58.09,645.97L59.60,645.97L61.11,645.97L62.62,645.97L64.13,645.97L65.64,645.97L67.15,645.97L68.66,645.97L70.17,645.96L71.68,645.96L73.19,645.95L74.70,645.95L76.21,645.94L77.72,645.94L79.23,645.93L80.74,645.93L82.25,645.92L83.76,645.92L85.27,645.91L86.78,645.91L88.29,645.90L89.80,645.90L91.31,645.90L92.82,645.89L94.33,645.89L95.84,645.89L97.35,645.89L98.86,645.89L100.37,645.89L101.88,645.89L103.39,645.90L104.90,645.90L106.41,645.91L107.92,645.92L109.43,645.93L110.94,645.94L112.45,645.95L113.96,645.96L115.47,645.98L116.98,646.00L118.49,646.02L120.00,646.04L121.51,646.06L123.02,646.09L124.53,646.11L126.04,646.14L127.55,646.18L129.06,646.21L130.57,646.25L132.08,646.29L133.59,646.33L135.10,646.38L136.61,646.43L138.12,646.48L139.63,646.53L141.14,646.59L142.65,646.65L144.16,646.71L145.67,646.78L147.18,646.85L148.69,646.92L150.20,647.00L151.70,647.38L153.21,647.75L154.71,648.13L156.22,648.50L157.72,648.87L159.23,649.24L160.73,649.61L162.24,649.98L163.74,650.36L165.25,650.73L166.75,651.10L168.26,651.48L169.76,651.85L171.27,652.23L172.77,652.61L174.28,652.99L175.78,653.38L177.29,653.76L178.79,654.16L180.29,654.55L181.80,654.95L183.30,655.35L184.81,655.75L186.31,656.16L187.82,656.58L189.32,657.00L190.83,657.42L192.33,657.86L193.84,658.29L195.34,658.73L196.85,659.18L198.35,659.64L199.86,660.10L201.36,660.57L202.87,661.05L204.37,661.54L205.88,662.03L207.38,662.53L208.88,663.04L210.39,663.56L211.89,664.09L213.40,664.62L214.90,665.17L216.41,665.73L217.91,666.29L219.42,666.86L220.92,667.44L222.43,668.03L223.93,668.63L225.44,669.23L226.94,669.84L228.45,670.46L229.95,671.08L231.46,671.70L232.96,672.34L234.46,672.97L235.97,673.61L237.47,674.26L238.98,674.91L240.48,675.56L241.99,676.21L243.49,676.87L245.00,677.53L246.50,678.19L248.01,678.86L249.51,679.52L251.02,680.19L252.52,680.86L254.03,681.52L255.53,682.18L257.04,682.85L258.54,683.51L260.05,684.16L261.55,684.81L263.05,685.46L264.56,686.10L266.06,686.74L267.57,687.36L269.07,687.98L270.58,688.60L272.08,689.20L273.59,689.79L275.09,690.37L276.60,690.95L278.10,691.52L279.61,692.08L281.11,692.63L282.62,693.18L284.12,693.71L285.63,694.24L287.13,694.77L288.64,695.28L290.14,695.79L291.64,696.30L293.15,696.80L294.65,697.29L296.16,697.77L297.66,698.26L299.17,698.73L300.67,699.20L302.18,699.67L303.68,700.13L305.19,700.59L306.69,701.04L308.20,701.49L309.70,701.94L311.21,702.38L312.71,702.82L314.22,703.26L315.72,703.69L317.23,704.13L318.73,704.56L320.23,704.98L321.74,705.41L323.24,705.83L324.75,706.25L326.25,706.67L327.76,707.09L329.26,707.51L330.77,707.93L332.27,708.35L333.78,708.77L335.28,709.19L336.79,709.60L338.29,710.02L339.80,710.44L341.30,710.86L342.81,711.29L344.31,711.71L345.81,712.13L347.32,712.56L348.82,712.99L350.33,713.42L351.83,713.85L353.34,714.29L354.84,714.73L356.35,715.17L357.85,715.61L359.36,716.06L360.86,716.52L362.37,716.97L363.87,717.43L365.38,717.90L366.88,718.37L368.39,718.84L369.89,719.32L371.40,719.81L372.90,720.30" stroke="#000" stroke-width="1.5" stroke-dasharray="5 1.2 1.4 1.2" fill="none"/>
<path d="M44.50,672.70L46.00,672.58L47.50,672.46L49.00,672.34L50.50,672.23L52.00,672.12L53.50,672.00L55.00,671.89L56.50,671.78L58.00,671.68L59.50,671.57L61.00,671.46L62.50,671.36L64.00,671.25L65.50,671.15L67.00,671.05L68.50,670.95L70.00,670.85L71.50,670.74L73.00,670.64L74.50,670.55L76.00,670.45L77.50,670.35L79.00,670.25L80.50,670.15L82.00,670.05L83.50,669.95L85.00,669.85L86.50,669.76L88.00,669.66L89.50,669.56L91.00,669.46L92.50,669.36L94.00,669.26L95.50,669.16L97.00,669.06L98.50,668.96L100.00,668.85L101.50,668.75L103.00,668.65L104.50,668.54L106.00,668.44L107.50,668.33L109.00,668.22L110.50,668.11L112.00,668.00L113.50,667.89L115.00,667.77L116.50,667.66L118.00,667.54L119.50,667.43L121.00,667.31L122.50,667.18L124.00,667.06L125.50,666.94L127.00,666.81L128.50,666.68L130.00,666.55L131.50,666.42L133.00,666.28L134.50,666.14L136.00,666.00L137.50,665.86L139.00,665.71L140.50,665.57L142.00,665.42L143.50,665.26L145.00,665.11L146.50,664.95L148.00,664.79L149.50,664.62L151.00,664.46L152.50,664.29L154.00,664.11L155.50,663.94L157.00,663.76L158.50,663.57L160.00,663.38L161.50,663.19L163.00,663.00L164.50,662.80L166.00,662.60L167.50,662.40L169.00,662.19L170.50,661.97L172.00,661.76L173.50,661.54L175.00,661.31L176.50,661.08L178.00,660.85L179.50,660.61L181.00,660.37L182.50,660.13L184.00,659.88L185.50,659.62L187.00,659.37L188.50,659.10L190.00,658.84L191.50,658.57L193.00,658.30L194.50,658.02L196.00,657.74L197.50,657.45L199.00,657.16L200.50,656.86L202.00,656.57L203.50,656.26L205.00,655.96L206.50,655.64L208.00,655.33L209.50,655.01L211.00,654.68L212.50,654.36L214.00,654.02L215.50,653.69L217.00,653.35L218.50,653.00L220.00,652.65L221.50,652.30L223.00,651.94L224.50,651.58L226.00,651.21L227.50,650.84L229.00,650.46L230.50,650.08L232.00,649.70L233.50,649.31L235.00,648.91L236.50,648.52L238.00,648.11L239.50,647.71L241.00,647.30L242.50,646.88L244.00,646.46L245.50,646.04L247.00,645.61L248.50,645.18L250.00,644.74L251.50,644.30L253.00,643.85L254.50,643.40L256.00,642.94L257.50,642.48L259.00,642.01L260.50,641.55L262.00,641.07L263.50,640.59L265.00,640.11L266.50,639.62L268.00,639.13L269.50,638.63L271.00,638.13L272.50,637.62L274.00,637.11L275.50,636.59L277.00,636.07L278.50,635.55L280.00,635.02L281.50,634.48L282.50,634.12L283.41,633.81L284.32,633.54L285.23,633.30L286.14,633.11L287.05,632.95L287.95,632.83L288.86,632.76L289.77,632.72L290.68,632.72L291.59,632.75L292.50,632.83L293.60,632.95L295.12,633.11L296.65,633.27L298.18,633.43L299.70,633.60L301.23,633.76L302.75,633.92L304.27,634.08L305.80,634.24L307.32,634.40L308.85,634.56L310.38,634.73L311.90,634.89L313.43,635.05L314.95,635.21L316.48,635.37L318.00,635.53L319.52,635.70L321.05,635.86L322.57,636.02L324.10,636.18L325.62,636.34L327.15,636.50L328.68,636.67L330.20,636.83L331.73,636.99L333.25,637.15L334.77,637.31L336.30,637.47L337.82,637.64L339.35,637.80L340.88,637.96L342.40,638.12L343.93,638.29L345.45,638.45L346.97,638.61L348.50,638.77L350.02,638.94L351.55,639.10L353.07,639.26L354.60,639.43L356.12,639.59L357.65,639.75L359.17,639.92L360.70,640.08L362.22,640.25L363.75,640.41L365.27,640.57L366.80,640.74L368.32,640.90L369.85,641.07L371.38,641.23L372.90,641.40" stroke="#000" stroke-width="1.5" fill="none"/>
<rect x="306.50" y="543.10" width="60.00" height="48.50" fill="#fff" stroke="#000" stroke-width="1.4"/>
<path d="M313.00,549.20H340.20" stroke="#000" stroke-width="1.5" stroke-dasharray="3.3 1.6" fill="none"/>
<g transform="translate(346.70,549.20)"><path d="M0.4,-0.5C0.7,-1.6 1.6,-2.0 2.2,-0.9L3.0,2.3M5.7,-1.7L3.0,2.3L2.75,4.4" stroke="#000" stroke-width="1.1" fill="none" stroke-linecap="round"/><ellipse cx="2.7" cy="4.9" rx="0.9" ry="1.15" fill="#000"/></g>
<path d="M313.00,560.50H340.20" stroke="#111" stroke-width="1.2" stroke-dasharray="1 1" fill="none"/>
<g transform="translate(346.70,560.90)"><path d="M0.4,-0.5C0.7,-1.6 1.6,-2.0 2.2,-0.9L3.0,2.3M5.7,-1.7L3.0,2.3L2.75,4.4" stroke="#000" stroke-width="1.1" fill="none" stroke-linecap="round"/><ellipse cx="2.7" cy="4.9" rx="0.9" ry="1.15" fill="#000"/><path d="M8.7,-4.1L7.4,-1.0" stroke="#000" stroke-width="1.0" stroke-linecap="round"/></g>
<path d="M313.00,573.30H340.20" stroke="#000" stroke-width="1.7" stroke-dasharray="5 1.2 1.4 1.2" fill="none"/>
<text x="346.40" y="577.60" class="lg2" transform="translate(346.40,0) scale(1.1,1) translate(-346.40,0)">&#963;</text>
<path d="M313.00,585.60H340.20" stroke="#000" stroke-width="1.5" fill="none"/>
<text x="346.80" y="589.50" class="lg2">&#946;</text>
<text x="48.6" y="554" class="pl">(c)</text><text x="70.6" y="554" class="nm">Amdry 995</text>
<text transform="translate(10.7,642.75) rotate(-90)" text-anchor="middle" class="at">Phase amount (Wt.%)</text>
<text x="209" y="769" text-anchor="middle" class="at">Temperature (&#176;C)</text>
</svg>
</body></html>
